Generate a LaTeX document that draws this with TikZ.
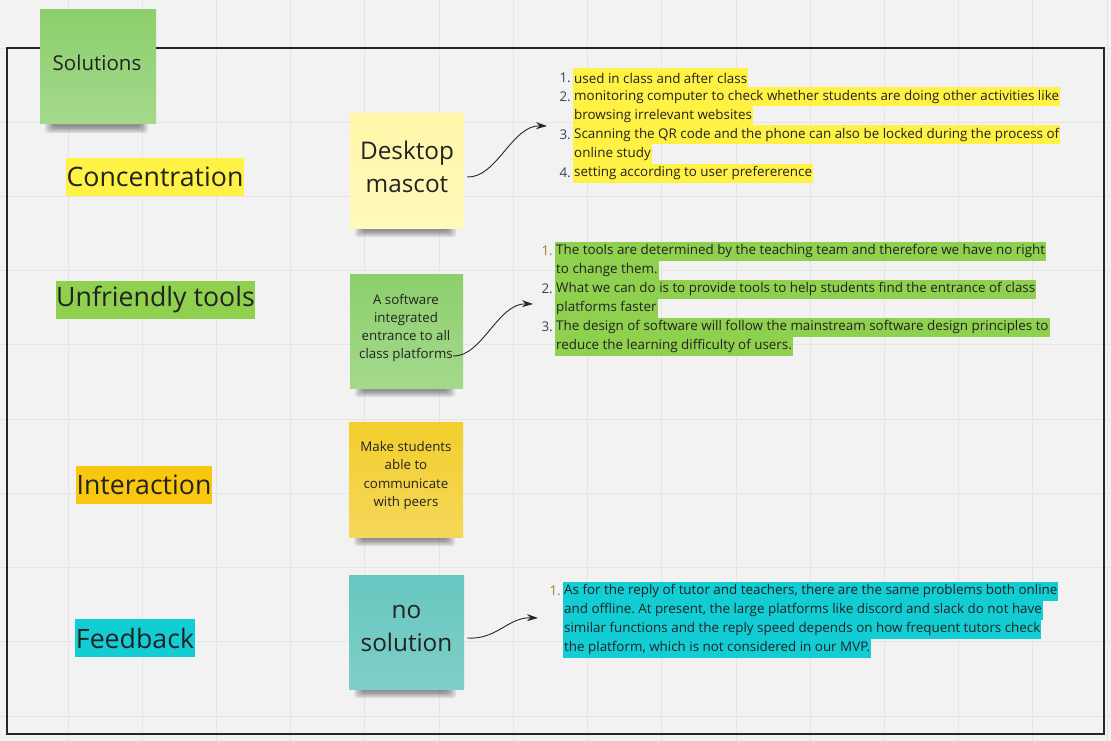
\documentclass[tikz,border=0pt]{standalone}
\usepackage{fontspec}
\setmainfont{Open Sans}
\usetikzlibrary{arrows.meta}
\frenchspacing
\definecolor{bg}{HTML}{F2F2F2}
\definecolor{gridc}{HTML}{E5E5E5}
\definecolor{framec}{HTML}{262626}
\definecolor{ink}{HTML}{222222}
\definecolor{hlyellow}{HTML}{FFF245}
\definecolor{hlgreen}{HTML}{8FD14F}
\definecolor{hlorange}{HTML}{FAC710}
\definecolor{hlteal}{HTML}{12CDD4}
\definecolor{numc}{HTML}{3C4250}
\definecolor{numo}{HTML}{A8732E}
\definecolor{greentop}{HTML}{8DCF6C}
\definecolor{greenbot}{HTML}{A3D98C}
\definecolor{paletop}{HTML}{FFF6A8}
\definecolor{palebot}{HTML}{FFF9BC}
\definecolor{goldtop}{HTML}{F2CF2C}
\definecolor{goldbot}{HTML}{F5D75A}
\definecolor{tealtop}{HTML}{67C7C0}
\definecolor{tealbot}{HTML}{7ECFC8}
\newcommand\stickyshadow[3]{%
  \foreach \d in {0,1,2,3,4}{%
    \fill[black,opacity=0.095,rounded corners=3pt]
      ({#1+5+2*\d},{#3-3}) rectangle ({#2-8-2*\d},{#3+9-1.4*\d});
  }%
}
\begin{document}
\begin{tikzpicture}[x=1pt,y=-1pt,
  gridline/.style={draw=gridc,line width=0.9pt},
  frameline/.style={draw=framec,line width=2pt},
  note/.style={rectangle,inner sep=0pt},
  notetext/.style={align=center,text=ink,inner sep=0pt},
  bigtext/.style={notetext,font=\fontsize{24.3}{33}\selectfont},
  smalltext/.style={notetext,font=\fontsize{13.3}{18.2}\selectfont},
  lab/.style={inner xsep=0.6pt,inner ysep=0pt,minimum height=38pt,text=ink,font=\fontsize{26.7}{30}\selectfont},
  hl/.style={anchor=west,inner xsep=1pt,inner ysep=0pt,minimum height=19pt,text=ink,font=\fontsize{13.4}{15}\selectfont},
  num/.style={anchor=east,inner sep=0pt,text=numc,font=\fontsize{13.4}{15}\selectfont},
  conn/.style={draw=black!85,line width=0.9pt,-{Stealth[length=11pt,width=7pt]}}
]
\useasboundingbox (0,0) rectangle (1111,741);
\fill[bg] (0,0) rectangle (1111,741);
\foreach \k in {0,...,14} \draw[gridline] ({68+74.22*\k},0) -- ({68+74.22*\k},741);
\foreach \k in {0,...,9} \draw[gridline] (0,{48+74.22*\k}) -- (1111,{48+74.22*\k});
\draw[frameline] (7,48) rectangle (1104,734);

% shadows
\stickyshadow{40}{156}{124}
\stickyshadow{350}{464}{228}
\stickyshadow{350}{463}{388}
\stickyshadow{349}{463}{537}
\stickyshadow{349}{464}{689}

% sticky notes
\node[note,minimum width=116pt,minimum height=114pt,top color=greentop,bottom color=greenbot] (nsol) at (98,67) {};
\node[notetext,font=\fontsize{20.5}{24}\selectfont] (tsol) at (97,63) {Solutions};
\node[note,minimum width=114pt,minimum height=114pt,top color=paletop,bottom color=palebot] (ndm) at (407,171) {};
\node[bigtext] (tdm) at (407,167) {Desktop\\ mascot};
\node[note,minimum width=113pt,minimum height=114pt,top color=greentop,bottom color=greenbot] (nsw) at (406.5,331) {};
\node[smalltext] (tsw) at (406,328) {A software\\integrated\\entrance to all\\class platforms};
\node[note,minimum width=114pt,minimum height=115pt,top color=goldtop,bottom color=goldbot] (nms) at (406,479.5) {};
\node[smalltext] (tms) at (406,475.5) {Make students\\able to\\communicate\\with peers};
\node[note,minimum width=115pt,minimum height=114pt,top color=tealtop,bottom color=tealbot] (nns) at (406.5,632) {};
\node[bigtext] (tns) at (406.5,628.5) {no\\solution};

% row labels
\node[lab,fill=hlyellow] (lcon) at (155,177) {Concentration};
\node[lab,fill=hlgreen] (lunf) at (155.5,299.5) {Unfriendly tools};
\node[lab,fill=hlorange] (lint) at (144,485) {Interaction};
\node[lab,fill=hlteal] (lfb) at (135,638) {Feedback};

% list 1
\node[num] (k1a) at (571,78) {1.};
\node[hl,fill=hlyellow] (c1a) at (573,78) {used in class and after class};
\node[num] (k1b) at (571,97) {2.};
\node[hl,fill=hlyellow] (c1b) at (573,97) {monitoring computer to check whether students are doing other activities like};
\node[hl,fill=hlyellow] (c1c) at (573,116) {browsing irrelevant websites};
\node[num] (k1d) at (571,135) {3.};
\node[hl,fill=hlyellow] (c1d) at (573,135) {Scanning the QR code and the phone can also be locked during the process of};
\node[hl,fill=hlyellow] (c1e) at (573,154) {online study};
\node[num] (k1f) at (571,173) {4.};
\node[hl,fill=hlyellow] (c1f) at (573,173) {setting according to user prefererence};

% list 2
\node[num,text=numo] (k2a) at (553,251) {1.};
\node[hl,fill=hlgreen] (c2a) at (555,251) {The tools are determined by the teaching team and therefore we have no right};
\node[hl,fill=hlgreen] (c2b) at (555,270) {to change them.};
\node[num] (k2c) at (553,289) {2.};
\node[hl,fill=hlgreen] (c2c) at (555,289) {What we can do is to provide tools to help students find the entrance of class};
\node[hl,fill=hlgreen] (c2d) at (555,308) {platforms faster};
\node[num] (k2e) at (553,327) {3.};
\node[hl,fill=hlgreen] (c2e) at (555,327) {The design of software will follow the mainstream software design principles to};
\node[hl,fill=hlgreen] (c2f) at (555,346) {reduce the learning difficulty of users.};

% list 3
\node[num,text=numo] (k3a) at (561,591) {1.};
\node[hl,fill=hlteal] (c3a) at (563,591) {As for the reply of tutor and teachers, there are the same problems both online};
\node[hl,fill=hlteal] (c3b) at (563,610) {and offline. At present, the large platforms like discord and slack do not have};
\node[hl,fill=hlteal] (c3c) at (563,629) {similar functions and the reply speed depends on how frequent tutors check};
\node[hl,fill=hlteal] (c3d) at (563,648) {the platform, which is not considered in our MVP.};

% connectors
\coordinate (a1s) at ([xshift=3pt,yshift=-6pt]ndm.east);
\coordinate (a1e) at (547,126);
\draw[conn] (a1s) .. controls (497,178) and (512,125) .. (a1e);
\coordinate (a2s) at (453,356);
\coordinate (a2e) at (533,304);
\draw[conn] (a2s) .. controls (482,357) and (498,303) .. (a2e);
\coordinate (a3s) at ([xshift=3pt,yshift=-6pt]nns.east);
\coordinate (a3e) at (538,618);
\draw[conn] (a3s) .. controls (497,640) and (508,617) .. (a3e);
\end{tikzpicture}
\end{document}
